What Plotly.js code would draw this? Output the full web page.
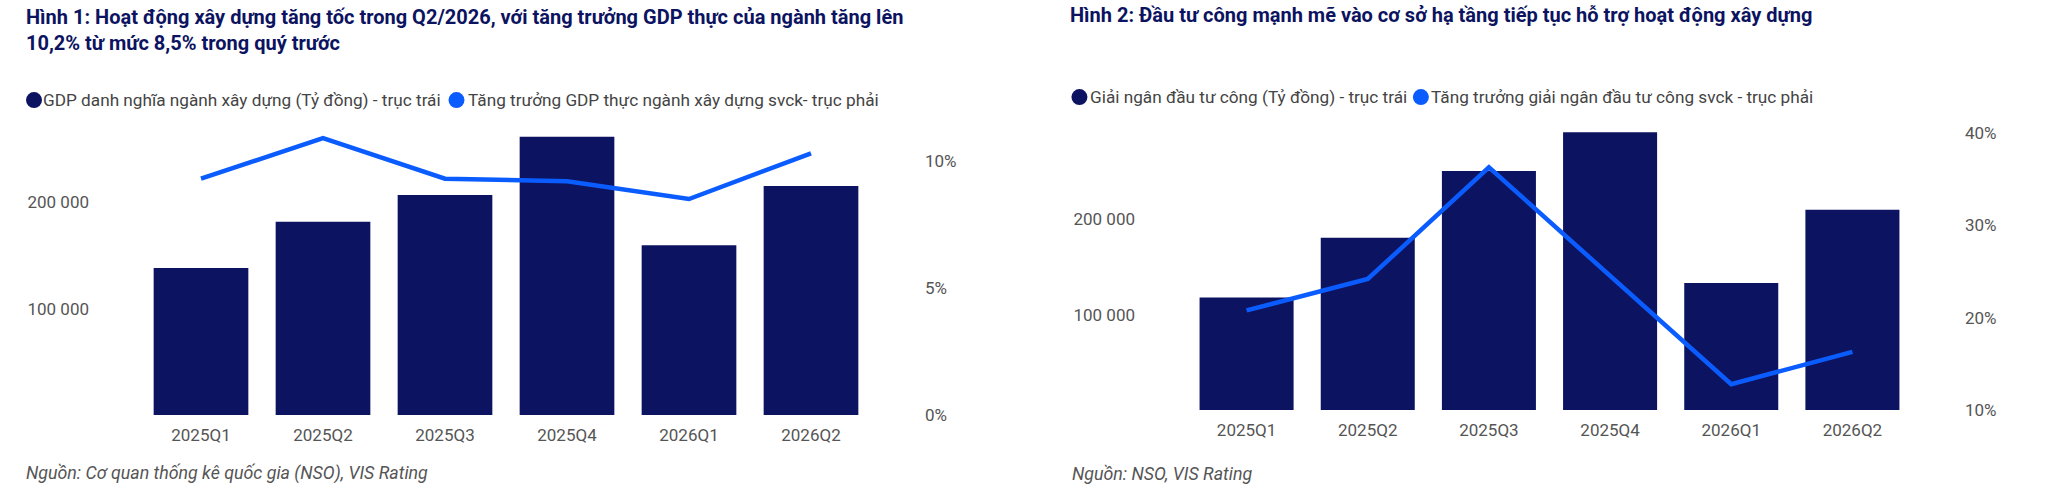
<!DOCTYPE html>
<html>
<head>
<meta charset="utf-8">
<script src="https://cdn.plot.ly/plotly-3.0.1.min.js"></script>
<style>
  html, body { margin: 0; padding: 0; background: #ffffff; }
  #wrap { position: relative; width: 2048px; height: 488px; overflow: hidden; }
  #c1, #c2 { position: absolute; top: 0; width: 1024px; height: 488px; }
  #c1 { left: 0; }
  #c2 { left: 1024px; }
</style>
</head>
<body>
<div id="wrap"><div id="c1"></div><div id="c2"></div></div>
<script>
// ---------- DATA ----------
const categories = ['2025Q1', '2025Q2', '2025Q3', '2025Q4', '2026Q1', '2026Q2'];

// Chart 1
const gdpNominal = [138200, 181700, 206800, 261500, 159400, 215200];   // Tỷ đồng
const gdpRealGrowth = [9.3, 10.9, 9.3, 9.2, 8.5, 10.3];               // % svck
const chart1LeftTicks = [100000, 200000];
const chart1LeftTickText = ['100 000', '200 000'];
const chart1RightTicks = [0, 5, 10];
const chart1RightTickText = ['0%', '5%', '10%'];

// Chart 2
const publicInvest = [118000, 180400, 250500, 291000, 133100, 209700]; // Tỷ đồng
const publicInvestGrowth = [20.8, 24.2, 36.3, 24.5, 12.8, 16.3];       // % svck
const chart2LeftTicks = [100000, 200000];
const chart2LeftTickText = ['100 000', '200 000'];
const chart2RightTicks = [10, 20, 30, 40];
const chart2RightTickText = ['10%', '20%', '30%', '40%'];

// Texts
const title1 = 'Hình 1: Hoạt động xây dựng tăng tốc trong Q2/2026, với tăng trưởng GDP thực của ngành tăng lên<br>10,2% từ mức 8,5% trong quý trước';
const title2 = 'Hình 2: Đầu tư công mạnh mẽ vào cơ sở hạ tầng tiếp tục hỗ trợ hoạt động xây dựng';
const legend1 = ['GDP danh nghĩa ngành xây dựng (Tỷ đồng) - trục trái', 'Tăng trưởng GDP thực ngành xây dựng svck- trục phải'];
const legend2 = ['Giải ngân đầu tư công (Tỷ đồng) - trục trái', 'Tăng trưởng giải ngân đầu tư công svck - trục phải'];
const source1 = 'Nguồn: Cơ quan thống kê quốc gia (NSO), VIS Rating';
const source2 = 'Nguồn: NSO, VIS Rating';

// ---------- STYLE ----------
const NAVY = '#0C1360';
const BLUE = '#0B5CFF';
const TICK = '#555555';
const FONT = 'Roboto, "Noto Sans", sans-serif';
const W = 1024, H = 488;

function build(el, cfg) {
  const m = cfg.margin;
  const pw = W - m.l - m.r, ph = H - m.t - m.b;
  const px = x => (x - m.l) / pw;           // div pixel -> paper x
  const py = y => (H - m.b - y) / ph;       // div pixel -> paper y

  const traces = [
    { type: 'bar', x: categories, y: cfg.bars, marker: { color: NAVY, line: { width: 0 } },
      name: cfg.legend[0], showlegend: false, hoverinfo: 'x+y' },
    { type: 'scatter', mode: 'lines', x: categories, y: cfg.line, yaxis: 'y2',
      line: { color: BLUE, width: 4.5 }, name: cfg.legend[1], showlegend: false, cliponaxis: false }
  ];

  const annotations = [];
  const shapes = [];
  const lgColors = [NAVY, BLUE];
  cfg.legend.forEach((t, i) => {
    const mk = cfg.legendMarkers[i];
    shapes.push({ type: 'circle', xref: 'paper', yref: 'paper', xsizemode: 'pixel', ysizemode: 'pixel',
      xanchor: px(mk), yanchor: py(cfg.legendY), x0: -8, x1: 8, y0: -8, y1: 8,
      fillcolor: lgColors[i], line: { width: 0 } });
    annotations.push({ xref: 'paper', yref: 'paper', x: px(cfg.legendText[i]), y: py(cfg.legendY),
      xanchor: 'left', yanchor: 'middle', showarrow: false, text: t, borderpad: 0, borderwidth: 0,
      font: { family: FONT, size: cfg.legendSize, color: '#444444' } });
  });
  annotations.push({ xref: 'paper', yref: 'paper', x: px(cfg.sourceX), y: py(474),
    xanchor: 'left', yanchor: 'middle', showarrow: false, text: '<i>' + cfg.source + '</i>',
    borderpad: 0, borderwidth: 0, font: { family: FONT, size: 17.8, color: '#555555' } });

  const layout = {
    width: W, height: H,
    margin: m,
    paper_bgcolor: '#ffffff', plot_bgcolor: '#ffffff',
    showlegend: false,
    bargap: 0.224,
    title: { text: cfg.title, x: cfg.titleX / W, xref: 'container', xanchor: 'left',
      y: 1 - cfg.titleY / H, yref: 'container', yanchor: 'middle',
      font: { family: FONT, size: 20, color: NAVY, weight: 700 } },
    xaxis: { type: 'category', showgrid: false, zeroline: false, showline: false, ticks: '',
      tickfont: { family: FONT, size: 17, color: TICK }, ticklabelstandoff: cfg.xStandoff, fixedrange: true },
    yaxis: { range: cfg.leftRange, showgrid: false, zeroline: false, showline: false, ticks: '',
      tickvals: cfg.leftTicks, ticktext: cfg.leftTickText, ticklabelstandoff: cfg.leftStandoff,
      tickfont: { family: FONT, size: 17, color: TICK } },
    yaxis2: { range: cfg.rightRange, overlaying: 'y', side: 'right', showgrid: false, zeroline: false,
      showline: false, ticks: '', tickvals: cfg.rightTicks, ticktext: cfg.rightTickText,
      ticklabelstandoff: cfg.rightStandoff, tickfont: { family: FONT, size: 17, color: TICK } },
    annotations: annotations,
    shapes: shapes,
    font: { family: FONT }
  };
  Plotly.newPlot(el, traces, layout, { staticPlot: true, displayModeBar: false });
}

build('c1', {
  margin: { l: 140, r: 152, t: 120, b: 72.5, pad: 0 },
  bars: gdpNominal, line: gdpRealGrowth,
  leftRange: [0, 277200], rightRange: [0, 11.61],
  leftTicks: chart1LeftTicks, leftTickText: chart1LeftTickText,
  rightTicks: chart1RightTicks, rightTickText: chart1RightTickText,
  leftStandoff: 50, rightStandoff: 52, xStandoff: 8,
  title: title1, titleX: 26, titleY: 24,
  legend: legend1, legendMarkers: [34, 456.5], legendText: [43, 468], legendY: 100, legendSize: 17.2,
  source: source1, sourceX: 26
});

build('c2', {
  margin: { l: 161.5, r: 134.5, t: 120, b: 77.5, pad: 0 },
  bars: publicInvest, line: publicInvestGrowth,
  leftRange: [0, 303870], rightRange: [10, 41.44],
  leftTicks: chart2LeftTicks, leftTickText: chart2LeftTickText,
  rightTicks: chart2RightTicks, rightTickText: chart2RightTickText,
  leftStandoff: 50, rightStandoff: 51, xStandoff: 8,
  title: title2, titleX: 46, titleY: 14.5,
  legend: legend2, legendMarkers: [54.8, 396.7], legendText: [65.3, 407], legendY: 97, legendSize: 17.2,
  source: source2, sourceX: 47
});
</script>
</body>
</html>
